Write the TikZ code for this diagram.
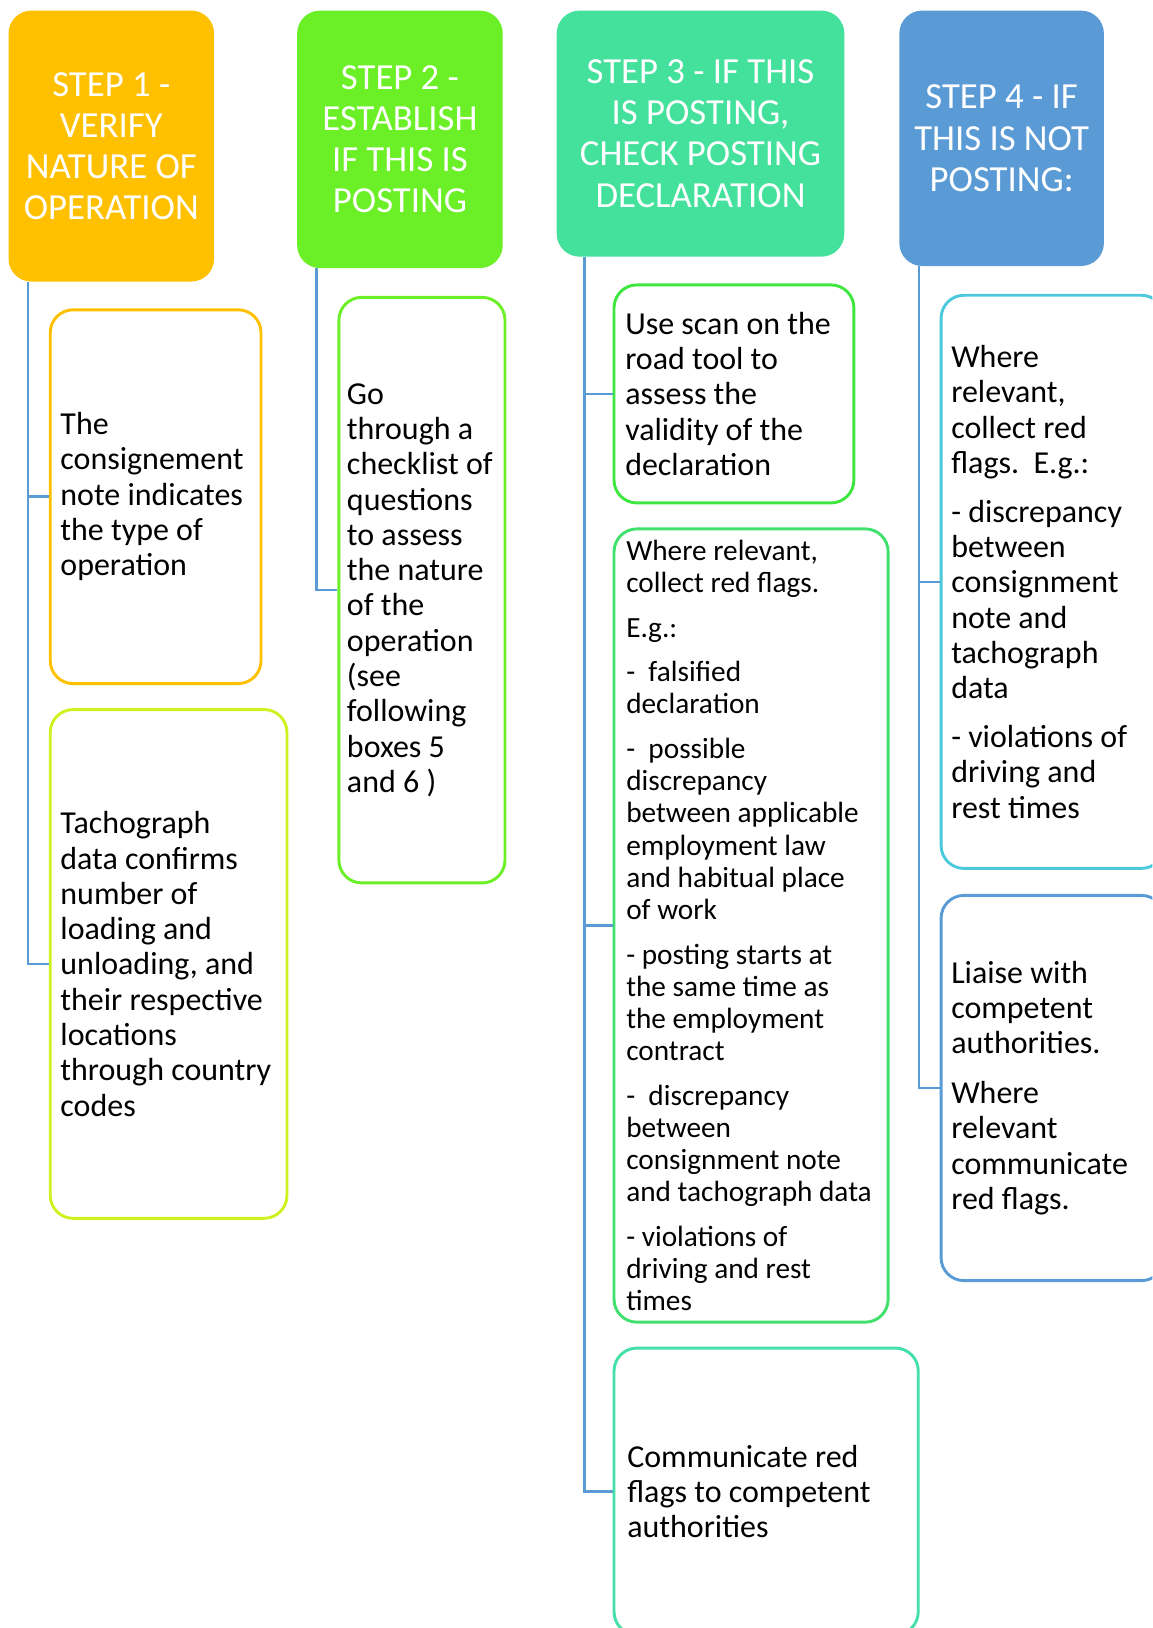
\documentclass[tikz,border=0pt]{standalone}
\usepackage{fontspec}
\setmainfont{Carlito}
\usetikzlibrary{calc}
\definecolor{cOrange}{HTML}{FFC000}
\definecolor{cGreen}{HTML}{6BEF26}
\definecolor{cTeal}{HTML}{43E19C}
\definecolor{cBlue}{HTML}{5B9BD5}
\definecolor{cLime}{HTML}{D0F020}
\definecolor{cGreenA}{HTML}{3FE63F}
\definecolor{cGreenB}{HTML}{3FE06C}
\definecolor{cTealB}{HTML}{43E0A8}
\definecolor{cCyan}{HTML}{4BC8DC}
\newcommand\hdrfont{\fontsize{35.4}{39.6}\selectfont}
\newcommand\bodyfont{\fontsize{30.8}{34}\selectfont}
\newcommand\smallfont{\fontsize{28.2}{31}\selectfont}
\begin{document}
\begin{tikzpicture}[x=1pt,y=-1pt,
  header/.style={rounded corners=22pt, inner sep=0pt, text=white, align=center, font=\hdrfont, anchor=north west},
  childbox/.style={draw, rounded corners=22pt, line width=2.8pt, inner sep=0pt, anchor=north west},
  childtext/.style={anchor=west, align=left, inner sep=0pt, text=black, font=\bodyfont},
  conn/.style={draw=cBlue, line width=2.4pt}]
\useasboundingbox (0,0) rectangle (1110,1568);
\begin{scope}
\clip (0,0) rectangle (1110,1568);
% headers
\node[header, fill=cOrange, minimum width=198pt, minimum height=261pt] (s1) at (8,10) {STEP 1 -\\VERIFY\\NATURE OF\\OPERATION};
\node[header, fill=cGreen, minimum width=198pt, minimum height=248pt] (s2) at (286,10) {STEP 2 -\\ESTABLISH\\IF THIS IS\\POSTING};
\node[header, fill=cTeal, minimum width=277pt, minimum height=237pt] (s3) at (536,10) {STEP 3 - IF THIS\\IS POSTING,\\CHECK POSTING\\DECLARATION};
\node[header, fill=cBlue, minimum width=197pt, minimum height=246pt] (s4) at (866,10) {STEP 4 - IF\\THIS IS NOT\\POSTING:};
% children
\node[childbox, draw=cOrange, minimum width=203pt, minimum height=360pt] (c1a) at (47,297) {};
\node[childbox, draw=cLime, minimum width=228pt, minimum height=490pt] (c1b) at (47,682) {};
\node[childbox, draw=cGreen, minimum width=160pt, minimum height=564pt] (c2) at (325,285) {};
\node[childbox, draw=cGreenA, minimum width=231pt, minimum height=210pt] (c3a) at (590,273) {};
\node[childbox, draw=cGreenB, minimum width=264pt, minimum height=764pt] (c3b) at (590,508) {};
\node[childbox, draw=cTealB, minimum width=293pt, minimum height=276pt] (c3c) at (590,1297) {};
\node[childbox, draw=cCyan, minimum width=215pt, minimum height=552pt] (c4a) at (905,283) {};
\node[childbox, draw=cBlue, minimum width=215pt, minimum height=371pt] (c4b) at (905,861) {};
% texts
\node[childtext] (t1a) at ($(c1a.west)+(11,0)$) {The\\consignement\\note indicates\\the type of\\operation};
\node[childtext] (t1b) at ($(c1b.west)+(11,0)$) {Tachograph\\data confirms\\number of\\loading and\\unloading, and\\their respective\\locations\\through country\\codes};
\node[childtext] (t2) at ($(c2.west)+(9,0)$) {Go\\through a\\checklist of\\questions\\to assess\\the nature\\of the\\operation\\(see\\following\\boxes 5\\and 6 )};
\node[childtext] (t3a) at ($(c3a.west)+(12,0)$) {Use scan on the\\road tool to\\assess the\\validity of the\\declaration};
\node[childtext, font=\smallfont] (t3b) at ($(c3b.west)+(13,0)$) {Where relevant,\\collect red flags.\\[12pt]E.g.:\\[12pt]-\ \ falsified\\declaration\\[12pt]-\ \ possible\\discrepancy\\between applicable\\employment law\\and habitual place\\of work\\[12pt]- posting starts at\\the same time as\\the employment\\contract\\[12pt]-\ \ discrepancy\\between\\consignment note\\and tachograph data\\[12pt]- violations of\\driving and rest\\times};
\node[childtext] (t3c) at ($(c3c.west)+(14,0)$) {Communicate red\\flags to competent\\authorities};
\node[childtext] (t4a) at ($(c4a.west)+(11,0)$) {Where\\relevant,\\collect red\\flags.\ \ E.g.:\\[13pt]- discrepancy\\between\\consignment\\note and\\tachograph\\data\\[13pt]- violations of\\driving and\\rest times};
\node[childtext] (t4b) at ($(c4b.west)+(11,0)$) {Liaise with\\competent\\authorities.\\[14pt]Where\\relevant\\communicate\\red flags.};
% connectors
\coordinate (r1) at ($(s1.south west)+(19,0)$);
\coordinate (r2) at ($(s2.south west)+(19,0)$);
\coordinate (r3) at ($(s3.south west)+(27,0)$);
\coordinate (r4) at ($(s4.south west)+(19,0)$);
\draw[conn] (r1) |- (c1a.west);
\draw[conn] (r1) |- (c1b.west);
\draw[conn] (r2) |- (c2.west);
\draw[conn] (r3) |- (c3a.west);
\draw[conn] (r3) |- (c3b.west);
\draw[conn] (r3) |- (c3c.west);
\draw[conn] (r4) |- (c4a.west);
\draw[conn] (r4) |- (c4b.west);
\end{scope}
\end{tikzpicture}
\end{document}
